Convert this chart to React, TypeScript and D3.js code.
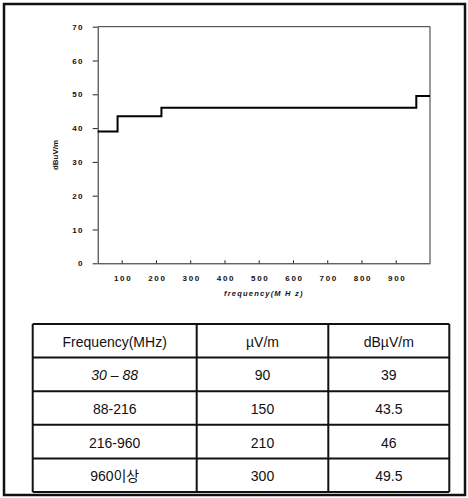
import React, { useEffect, useRef } from 'react';
import * as d3 from 'd3';

// step limit curve
const bandStart = [30, 88, 216, 960];
const bandEnd = [88, 216, 960, 1000];
const levels = [39, 43.5, 46, 49.5];
const xTicks = [100, 200, 300, 400, 500, 600, 700, 800, 900];
const yTicks = [0, 10, 20, 30, 40, 50, 60, 70];

// table underneath
const headers = ['Frequency(MHz)', 'µV/m', 'dBµV/m'];
const rangeLabels = ['30 – 88', '88-216', '216-960', '960이상'];
const uvPerM = ['90', '150', '210', '300'];
const dbuvPerM = ['39', '43.5', '46', '49.5'];

const W = 468;
const H = 498;
const AXIS_FONT = "'Liberation Sans', Arial, sans-serif";
const TABLE_FONT = "'Liberation Sans', Arial, 'Noto Sans CJK KR', sans-serif";

const App = () => {
  const svgRef = useRef<SVGSVGElement>(null);

  useEffect(() => {
    const svg = d3.select(svgRef.current);
    svg.selectAll('*').remove();

    // outer frame
    svg.append('rect')
      .attr('x', 4).attr('y', 4)
      .attr('width', 461).attr('height', 491)
      .attr('fill', 'none').attr('stroke', '#111').attr('stroke-width', 2.5);

    const plot = { left: 97.7, right: 430, top: 26.7, bottom: 263.3 };

    const x = d3.scaleLinear().domain([30, 1000]).range([plot.left, plot.right]);
    const y = d3.scaleLinear().domain([0, 70]).range([plot.bottom, plot.top]);

    // plot box (top and right sides)
    svg.append('path')
      .attr('d', `M${plot.left},${plot.top}H${plot.right}V${plot.bottom}`)
      .attr('fill', 'none').attr('stroke', '#333').attr('stroke-width', 1);

    const yAxis = svg.append('g')
      .attr('transform', `translate(${plot.left},0)`)
      .call(d3.axisLeft(y).tickValues(yTicks).tickSize(5).tickSizeOuter(0));
    yAxis.select('.domain').attr('stroke', '#222');
    yAxis.selectAll('line').attr('stroke', '#222');
    yAxis.selectAll('text')
      .attr('x', -14)
      .attr('font-family', AXIS_FONT)
      .attr('font-size', 8)
      .attr('font-weight', 'bold')
      .attr('letter-spacing', 1.3)
      .attr('fill', '#111');

    const xAxis = svg.append('g')
      .attr('transform', `translate(0,${plot.bottom})`)
      .call(d3.axisBottom(x).tickValues(xTicks).tickSize(-3).tickSizeOuter(0));
    xAxis.select('.domain').attr('stroke', '#222');
    xAxis.selectAll('line').attr('stroke', '#222');
    xAxis.selectAll('text')
      .attr('y', 15)
      .attr('dy', '0.35em')
      .attr('dx', 1)
      .attr('font-family', AXIS_FONT)
      .attr('font-size', 8)
      .attr('font-weight', 'bold')
      .attr('letter-spacing', 1.7)
      .attr('fill', '#111');

    svg.append('text')
      .attr('x', (plot.left + plot.right) / 2)
      .attr('y', 293)
      .attr('dy', '0.35em')
      .attr('text-anchor', 'middle')
      .attr('font-family', AXIS_FONT)
      .attr('font-size', 7.5)
      .attr('font-weight', 'bold')
      .attr('font-style', 'italic')
      .attr('letter-spacing', 1.2)
      .attr('fill', '#111')
      .text('frequency(M H z)');

    svg.append('text')
      .attr('transform', `translate(55,${(plot.top + plot.bottom) / 2 + 10}) rotate(-90)`)
      .attr('dy', '0.35em')
      .attr('text-anchor', 'middle')
      .attr('font-family', AXIS_FONT)
      .attr('font-size', 8)
      .attr('font-weight', 'bold')
      .attr('fill', '#111')
      .text('dBuV/m');

    // the step line
    const pts: [number, number][] = bandStart.map((s, i) => [s, levels[i]]);
    pts.push([bandEnd[bandEnd.length - 1], levels[levels.length - 1]]);
    const line = d3.line<[number, number]>()
      .x(d => x(d[0]))
      .y(d => y(d[1]))
      .curve(d3.curveStepAfter);
    svg.append('path')
      .datum(pts)
      .attr('d', line)
      .attr('fill', 'none')
      .attr('stroke', '#000')
      .attr('stroke-width', 2);

    // table
    const colEdges = [32.7, 196.7, 328.3, 449.3];
    const rowCount = rangeLabels.length + 1;
    const row = d3.scaleLinear().domain([0, rowCount]).range([324, 492]);
    const tbl = svg.append('g');

    tbl.selectAll('line.h')
      .data(d3.range(rowCount + 1))
      .join('line')
      .attr('x1', colEdges[0]).attr('x2', colEdges[3])
      .attr('y1', d => row(d)).attr('y2', d => row(d))
      .attr('stroke', '#111').attr('stroke-width', 2);

    tbl.selectAll('line.v')
      .data(colEdges)
      .join('line')
      .attr('x1', d => d).attr('x2', d => d)
      .attr('y1', row(0)).attr('y2', row(rowCount))
      .attr('stroke', '#111').attr('stroke-width', 2);

    const rows = [headers, ...rangeLabels.map((r, i) => [r, uvPerM[i], dbuvPerM[i]])];
    rows.forEach((cells, ri) => {
      cells.forEach((c, ci) => {
        tbl.append('text')
          .attr('x', (colEdges[ci] + colEdges[ci + 1]) / 2)
          .attr('y', (row(ri) + row(ri + 1)) / 2 + 1)
          .attr('dy', '0.35em')
          .attr('text-anchor', 'middle')
          .attr('font-family', TABLE_FONT)
          .attr('font-size', 14)
          .attr('font-style', ri === 1 && ci === 0 ? 'italic' : 'normal')
          .attr('fill', '#111')
          .text(c);
      });
    });
  }, []);

  return (
    <svg
      ref={svgRef}
      width={W}
      height={H}
      style={{ position: 'absolute', left: 0, top: 0, background: '#fff' }}
    ></svg>
  );
};

export default App;
